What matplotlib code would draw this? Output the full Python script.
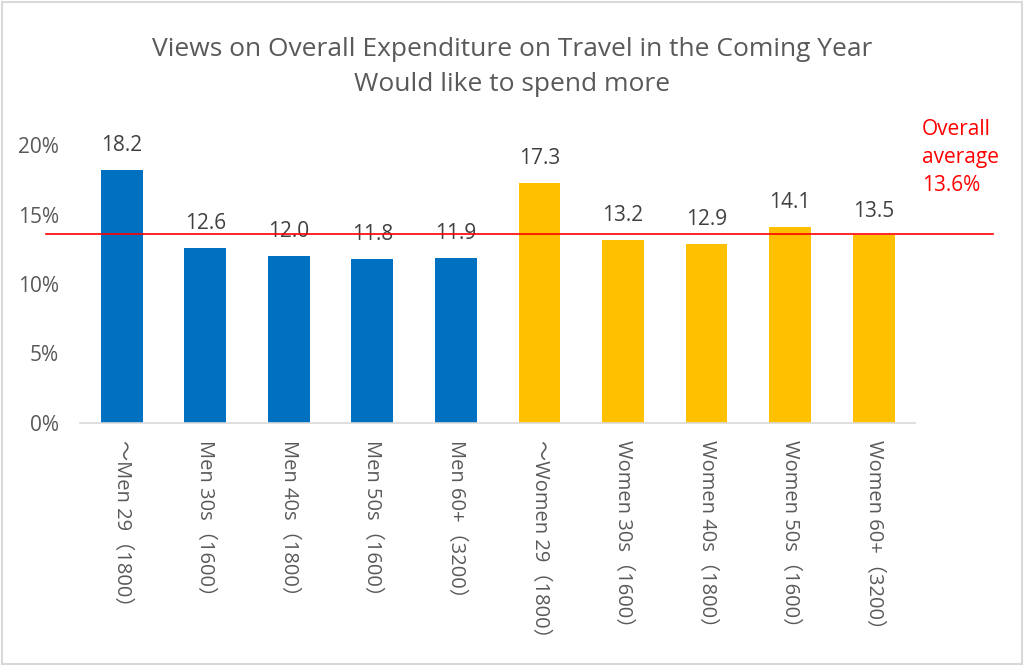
import matplotlib.pyplot as plt
from matplotlib.patches import Rectangle

plt.rcParams['font.family'] = ['Open Sans', 'Noto Sans CJK JP', 'DejaVu Sans']

# Data
categories = ['～Men 29（1800）', 'Men 30s（1600）', 'Men 40s（1800）', 'Men 50s（1600）', 'Men 60+（3200）',
              '～Women 29（1800）', 'Women 30s（1600）', 'Women 40s（1800）', 'Women 50s（1600）', 'Women 60+（3200）']
values = [18.2, 12.6, 12.0, 11.8, 11.9, 17.3, 13.2, 12.9, 14.1, 13.5]
groups = ['men'] * 5 + ['women'] * 5
overall_avg = 13.6

colors = {'men': '#0070C0', 'women': '#FFC000'}
gray = '#595959'

fig = plt.figure(figsize=(10.24, 6.66), dpi=100)
ax = fig.add_axes([0.078, 0.365, 0.816, 0.417])

x = list(range(len(categories)))
ax.bar(x, values, width=0.5, color=[colors[g] for g in groups], zorder=2)

for xi, v in zip(x, values):
    ax.annotate(f'{v:.1f}', (xi, v), xytext=(0, 10), textcoords='offset points',
                ha='center', va='bottom', fontsize=15, color='#404040')

# overall average line (extends past plot area)
ax.axhline(overall_avg, xmin=-0.04, xmax=1.093, color='#FF0000', lw=1.2, clip_on=False, zorder=3)
ax.text(1.008, 0.955, 'Overall\naverage\n13.6%', transform=ax.transAxes, color='#FF0000',
        fontsize=15, ha='left', va='center', linespacing=1.45)

ax.set_xlim(-0.5, 9.5)
ax.set_ylim(0, 20)
ax.set_yticks([0, 5, 10, 15, 20])
ax.set_yticklabels(['0%', '5%', '10%', '15%', '20%'])
ax.set_xticks(x)
ax.set_xticklabels(categories, rotation=-90, ha='center', va='top')
ax.tick_params(axis='both', length=0, colors=gray)
ax.tick_params(axis='y', pad=15, labelsize=15)
ax.tick_params(axis='x', pad=12, labelsize=14.5)

for s in ['top', 'right', 'left']:
    ax.spines[s].set_visible(False)
ax.spines['bottom'].set_color('#D9D9D9')
ax.spines['bottom'].set_linewidth(1.2)

fig.suptitle('Views on Overall Expenditure on Travel in the Coming Year\nWould like to spend more',
             y=0.944, fontsize=19, color=gray, linespacing=1.5)

fig.patches.append(Rectangle((0.002, 0.003), 0.996, 0.994, transform=fig.transFigure,
                             fill=False, edgecolor='#D9D9D9', lw=1.5))

plt.savefig('out.png', format='png')
plt.close()
